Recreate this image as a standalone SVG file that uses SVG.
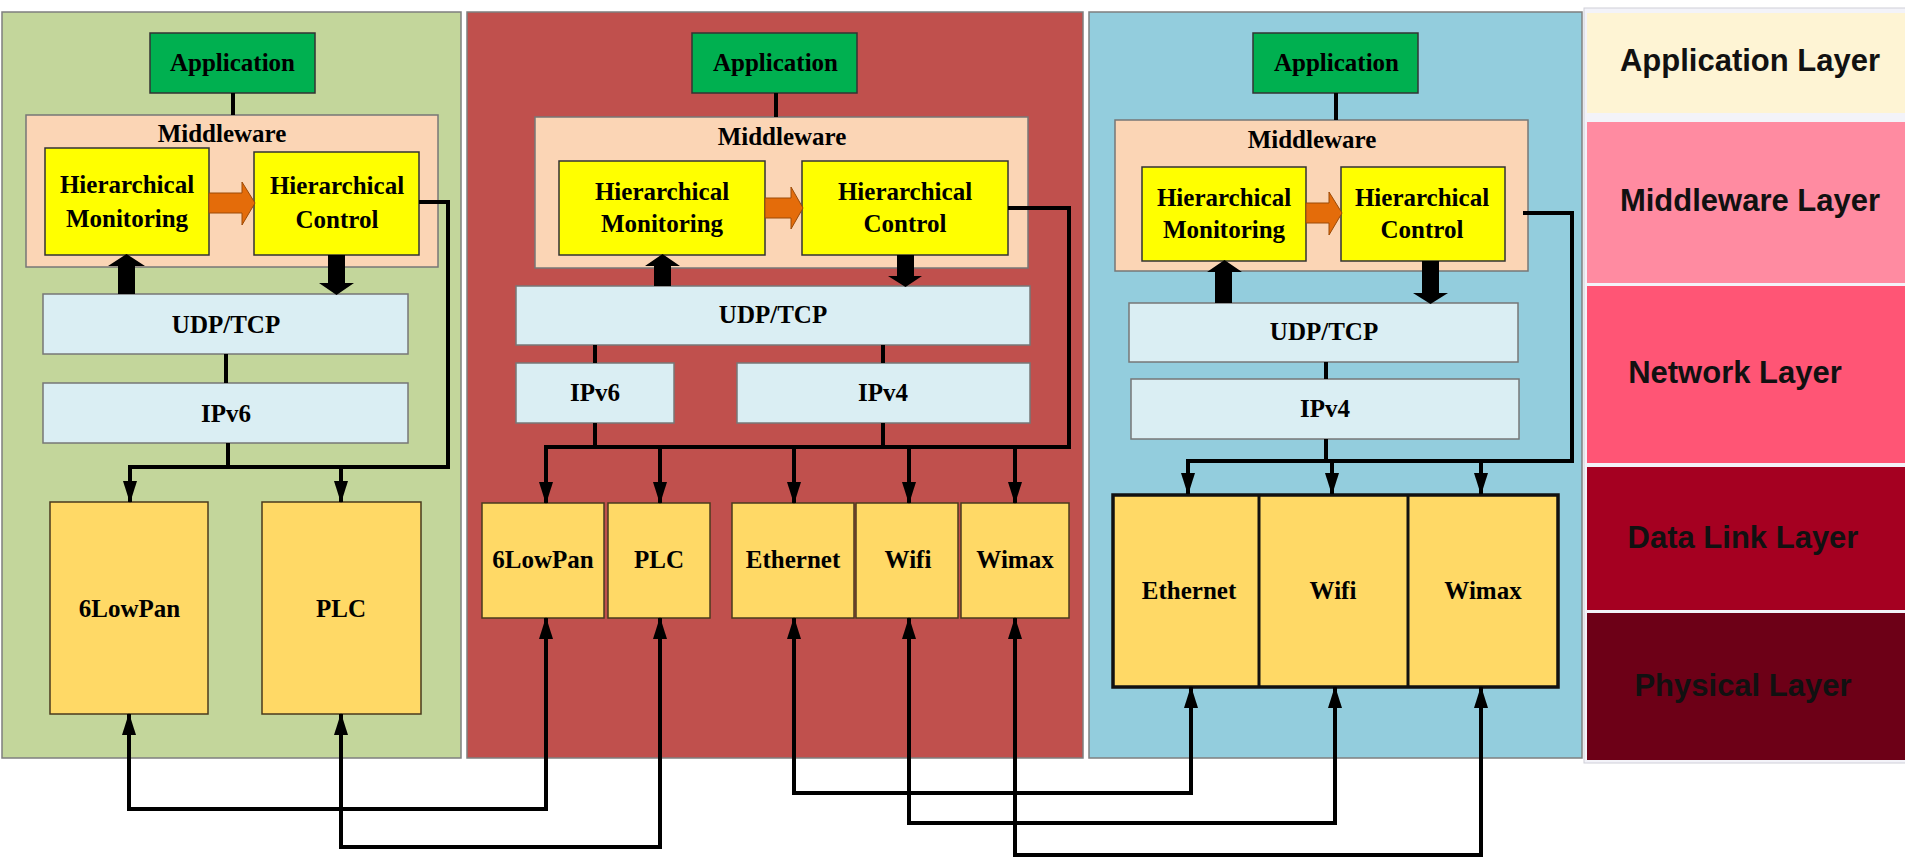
<svg xmlns="http://www.w3.org/2000/svg" width="1905" height="861" viewBox="0 0 1905 861">
<style>
.t{font-family:"Liberation Serif","Times New Roman",serif;font-weight:bold;font-size:25px;fill:#000;text-anchor:middle}
.lt{font-family:"Liberation Sans",Arial,sans-serif;font-weight:bold;font-size:31px;fill:#111;text-anchor:middle}
.app{fill:#00B050;stroke:#333;stroke-width:1.5}
.mw{fill:#FBD5B5;stroke:#777;stroke-width:1.5}
.hc{fill:#FFFF00;stroke:#333;stroke-width:1.5}
.net{fill:#DAEEF3;stroke:#777;stroke-width:1.5}
.dl{fill:#FFD966;stroke:#4A3A1E;stroke-width:1.5}
.ln{fill:none;stroke:#000;stroke-width:4}
.ar{fill:none;stroke:#000;stroke-width:4;marker-end:url(#ah)}
.bi{fill:none;stroke:#000;stroke-width:4;marker-start:url(#ah);marker-end:url(#ah)}
.blk{fill:#000}
.or{fill:#E46C0A;stroke:#9C4A06;stroke-width:1}
.pan{stroke:#7F7F7F;stroke-width:1.5}
</style>
<defs>
<marker id="ah" markerUnits="userSpaceOnUse" markerWidth="22" markerHeight="14" refX="21" refY="7" orient="auto-start-reverse">
<path d="M0,0 L22,7 L0,14 z" fill="#000"/>
</marker>
</defs>
<rect x="0" y="0" width="1905" height="861" fill="#fff"/>

<g id="panel-left">
<rect class="pan" x="2" y="12" width="459" height="746" fill="#C3D69B"/>
</g>
<g id="panel-middle">
<rect class="pan" x="467" y="12" width="616" height="746" fill="#C0504D"/>
</g>
<g id="panel-right">
<rect class="pan" x="1089" y="12" width="493" height="746" fill="#93CDDD"/>
</g>

<g id="layer-legend">
<rect x="1584" y="8" width="325" height="755" fill="#F3F3F9" stroke="#cfcfd8" stroke-width="1"/>
<g id="layer-application"><rect x="1587" y="13" width="320" height="100" fill="#FEF4D4"/><text class="lt" x="1750" y="71">Application Layer</text></g>
<g id="layer-middleware"><rect x="1587" y="122" width="320" height="161" fill="#FF8BA1"/><text class="lt" x="1750" y="211">Middleware Layer</text></g>
<g id="layer-network"><rect x="1587" y="286" width="320" height="177" fill="#FF5575"/><text class="lt" x="1735" y="383">Network Layer</text></g>
<g id="layer-datalink"><rect x="1587" y="467" width="320" height="143" fill="#A50021"/><text class="lt" x="1743" y="548">Data Link Layer</text></g>
<g id="layer-physical"><rect x="1587" y="613" width="320" height="147" fill="#6D0017"/><text class="lt" x="1743" y="696">Physical Layer</text></g>
</g>

<!-- Left stack -->
<g id="L-app"><rect class="app" x="150" y="33" width="165" height="60"/><text class="t" x="232.5" y="71">Application</text></g>
<g id="L-mw"><rect class="mw" x="26" y="115" width="412" height="152"/><text class="t" x="222" y="142">Middleware</text></g>
<g id="L-mon"><rect class="hc" x="45" y="148" width="164" height="107"/><text class="t" x="127" y="193">Hierarchical</text><text class="t" x="127" y="227">Monitoring</text></g>
<g id="L-ctl"><rect class="hc" x="254" y="152" width="165" height="103"/><text class="t" x="337" y="194">Hierarchical</text><text class="t" x="337" y="228">Control</text></g>
<g id="L-udp"><rect class="net" x="43" y="294" width="365" height="60"/><text class="t" x="226" y="333">UDP/TCP</text></g>
<g id="L-ipv6"><rect class="net" x="43" y="383" width="365" height="60"/><text class="t" x="226" y="422">IPv6</text></g>
<g id="L-6lowpan"><rect class="dl" x="50" y="502" width="158" height="212"/><text class="t" x="129.5" y="617">6LowPan</text></g>
<g id="L-plc"><rect class="dl" x="262" y="502" width="159" height="212"/><text class="t" x="341" y="617">PLC</text></g>

<!-- Middle stack -->
<g id="M-app"><rect class="app" x="692" y="33" width="165" height="60"/><text class="t" x="775.5" y="71">Application</text></g>
<g id="M-mw"><rect class="mw" x="535" y="117" width="493" height="151"/><text class="t" x="782" y="145">Middleware</text></g>
<g id="M-mon"><rect class="hc" x="559" y="161" width="206" height="94"/><text class="t" x="662" y="200">Hierarchical</text><text class="t" x="662" y="232">Monitoring</text></g>
<g id="M-ctl"><rect class="hc" x="802" y="161" width="206" height="94"/><text class="t" x="905" y="200">Hierarchical</text><text class="t" x="905" y="232">Control</text></g>
<g id="M-udp"><rect class="net" x="516" y="286" width="514" height="59"/><text class="t" x="773" y="323">UDP/TCP</text></g>
<g id="M-ipv6"><rect class="net" x="516" y="363" width="158" height="60"/><text class="t" x="595" y="401">IPv6</text></g>
<g id="M-ipv4"><rect class="net" x="737" y="363" width="293" height="60"/><text class="t" x="883" y="401">IPv4</text></g>
<g id="M-6lowpan"><rect class="dl" x="482" y="503" width="122" height="115"/><text class="t" x="543" y="568">6LowPan</text></g>
<g id="M-plc"><rect class="dl" x="608" y="503" width="102" height="115"/><text class="t" x="659" y="568">PLC</text></g>
<g id="M-ethernet"><rect class="dl" x="732" y="503" width="122" height="115"/><text class="t" x="793" y="568">Ethernet</text></g>
<g id="M-wifi"><rect class="dl" x="856" y="503" width="102" height="115"/><text class="t" x="908" y="568">Wifi</text></g>
<g id="M-wimax"><rect class="dl" x="961" y="503" width="108" height="115"/><text class="t" x="1015" y="568">Wimax</text></g>

<!-- Right stack -->
<g id="R-app"><rect class="app" x="1253" y="33" width="165" height="60"/><text class="t" x="1336.5" y="71">Application</text></g>
<g id="R-mw"><rect class="mw" x="1115" y="120" width="413" height="151"/><text class="t" x="1312" y="148">Middleware</text></g>
<g id="R-mon"><rect class="hc" x="1142" y="167" width="164" height="94"/><text class="t" x="1224" y="206">Hierarchical</text><text class="t" x="1224" y="238">Monitoring</text></g>
<g id="R-ctl"><rect class="hc" x="1341" y="167" width="164" height="94"/><text class="t" x="1422" y="206">Hierarchical</text><text class="t" x="1422" y="238">Control</text></g>
<g id="R-udp"><rect class="net" x="1129" y="303" width="389" height="59"/><text class="t" x="1324" y="340">UDP/TCP</text></g>
<g id="R-ipv4"><rect class="net" x="1131" y="379" width="388" height="60"/><text class="t" x="1325" y="417">IPv4</text></g>
<g id="R-datalink">
<rect x="1113" y="495" width="445" height="192" fill="#FFD966" stroke="#111" stroke-width="3.5"/>
<line x1="1259" y1="495" x2="1259" y2="687" stroke="#111" stroke-width="3"/>
<line x1="1408" y1="495" x2="1408" y2="687" stroke="#111" stroke-width="3"/>
</g>
<g id="R-ethernet"><text class="t" x="1189" y="599">Ethernet</text></g>
<g id="R-wifi"><text class="t" x="1333" y="599">Wifi</text></g>
<g id="R-wimax"><text class="t" x="1483" y="599">Wimax</text></g>

<g id="connectors">
<!-- left -->
<path class="ln" d="M233,93 V115"/>
<path class="ln" d="M226,354 V383"/>
<path class="ln" d="M228,443 V467"/>
<path class="ar" d="M419,202 H448 V467 H130 V502"/>
<path class="ar" d="M341,467 V502"/>
<polygon class="or" points="209,193 242,193 242,182 255,203 242,225 242,213 209,213"/>
<polygon class="blk" points="118,294 118,266 108,266 126.5,254 145,266 135,266 135,294"/>
<polygon class="blk" points="328,255 345,255 345,283 354,283 336.5,295 319,283 328,283"/>
<!-- middle -->
<path class="ln" d="M776,93 V117"/>
<path class="ln" d="M595,345 V363"/>
<path class="ln" d="M883,345 V363"/>
<path class="ln" d="M595,423 V447"/>
<path class="ln" d="M883,423 V447"/>
<path class="ar" d="M1008,208 H1069 V447 H546 V503"/>
<path class="ar" d="M660,447 V503"/>
<path class="ar" d="M794,447 V503"/>
<path class="ar" d="M909,447 V503"/>
<path class="ar" d="M1015,447 V503"/>
<polygon class="or" points="765,198 791,198 791,187 803,208 791,229 791,218 765,218"/>
<polygon class="blk" points="654,286 654,266 645,266 662.5,254 680,266 671,266 671,286"/>
<polygon class="blk" points="897,255 914,255 914,276 922,276 905.5,287 888,276 897,276"/>
<!-- right -->
<path class="ln" d="M1336,93 V120"/>
<path class="ln" d="M1326,362 V379"/>
<path class="ln" d="M1326,439 V461"/>
<path class="ar" d="M1523,213 H1572 V461 H1188 V494"/>
<path class="ar" d="M1332,461 V494"/>
<path class="ar" d="M1481,461 V494"/>
<polygon class="or" points="1306,203 1329,203 1329,192 1342,213 1329,235 1329,223 1306,223"/>
<polygon class="blk" points="1215,303 1215,272 1207,272 1224.5,260 1242,272 1232,272 1232,303"/>
<polygon class="blk" points="1422,261 1439,261 1439,293 1448,293 1430.5,304 1413,293 1422,293"/>
<!-- bottom cross links -->
<path class="bi" d="M129,714 V809 H546 V618"/>
<path class="bi" d="M341,714 V847 H660 V618"/>
<path class="bi" d="M794,618 V793 H1191 V687"/>
<path class="bi" d="M909,618 V823 H1335 V687"/>
<path class="bi" d="M1015,618 V855 H1481 V687"/>
</g>
</svg>
